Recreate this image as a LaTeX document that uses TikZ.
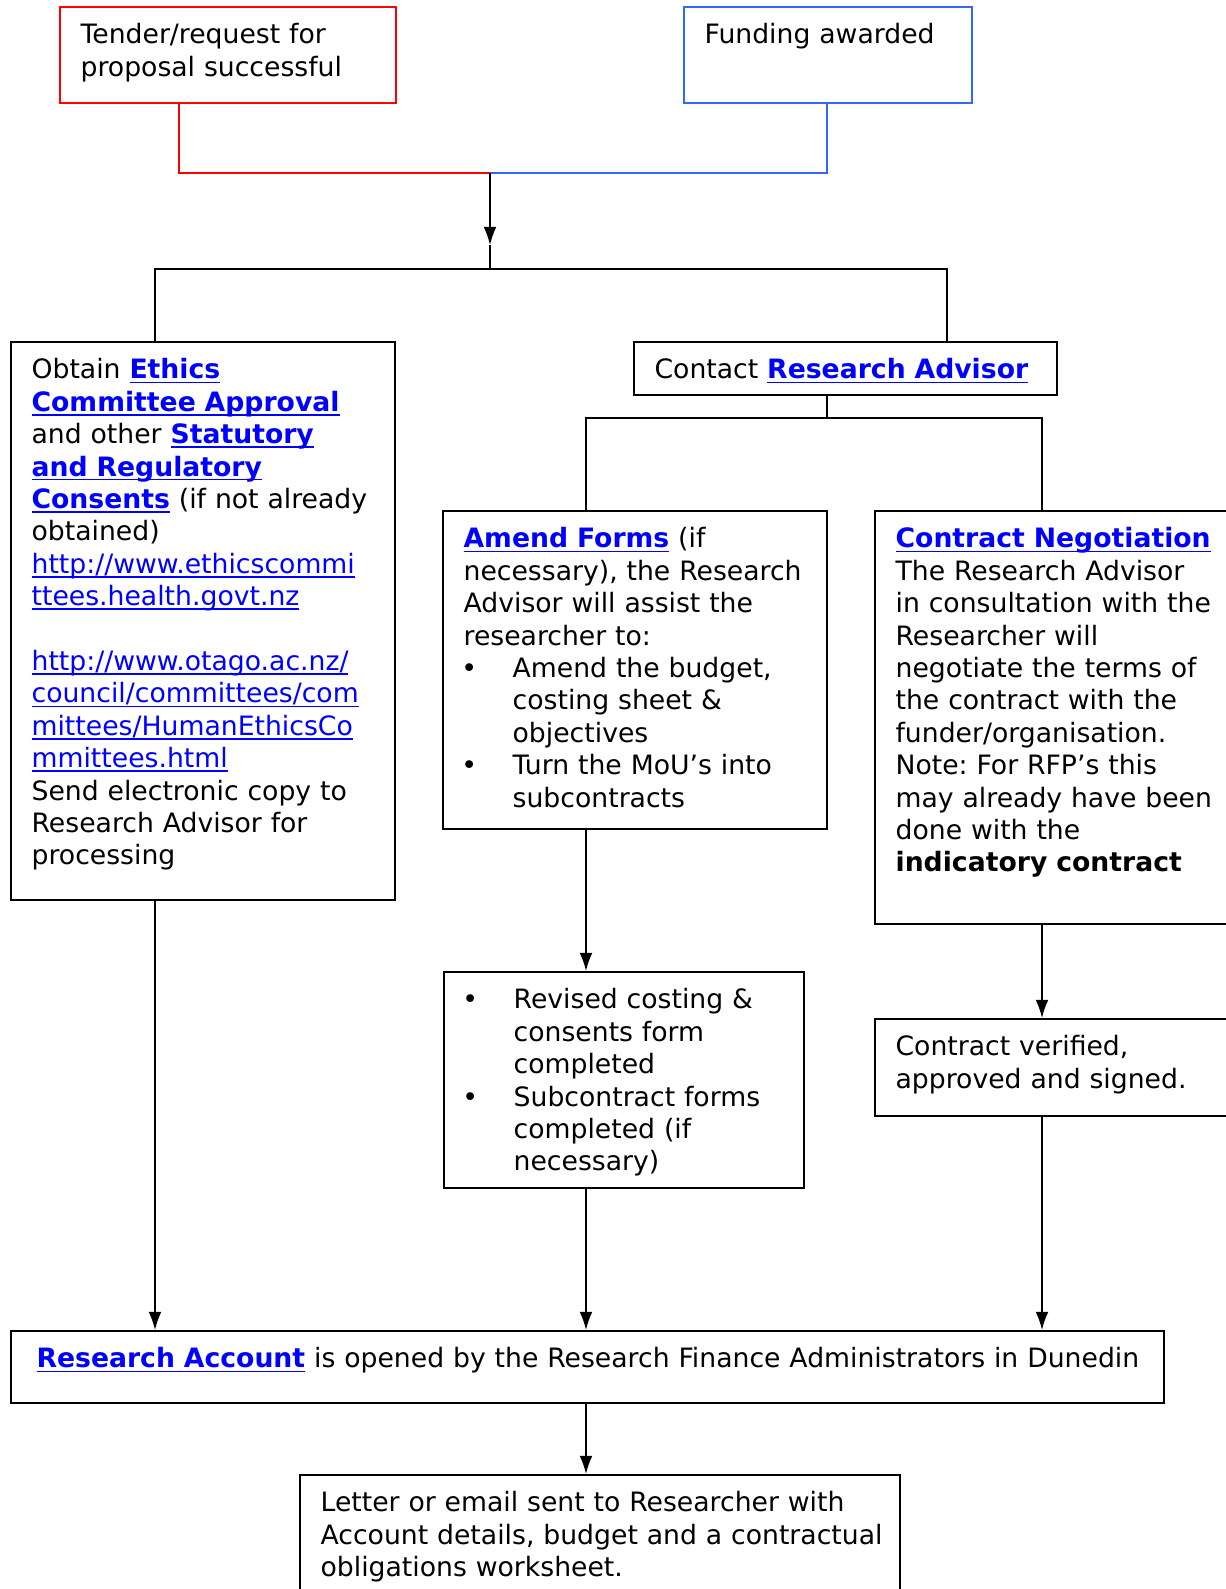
\documentclass[tikz,border=0pt]{standalone}
\usepackage{fontspec}
\setmainfont{DejaVu Sans}
\usepackage{xcolor}
\usepackage{tikz}
\usetikzlibrary{positioning,arrows.meta}

\definecolor{linkblue}{RGB}{0,0,255}
\definecolor{tenderred}{RGB}{255,0,0}
\definecolor{fundblue}{RGB}{51,102,255}
\newsavebox{\undlbox}
\newcommand{\undl}[1]{\sbox{\undlbox}{#1}\rlap{\rule[-1.6pt]{\wd\undlbox}{0.6pt}}\usebox{\undlbox}}
\newcommand{\lnk}[1]{\textcolor{linkblue}{\bfseries\undl{#1}}}
\newcommand{\weblink}[1]{\textcolor{linkblue}{\undl{#1}}}
\newcommand{\bitem}{\makebox[18.4pt][l]{\hspace{-0.8pt}\textbullet}}
\newcommand{\bind}{\hspace*{18.4pt}}
\frenchspacing

\begin{document}
\begin{tikzpicture}[
        x = 0.375pt, y = -0.375pt,
        box/.style = {draw=black, line width=0.75pt, anchor=north west, inner sep=0pt},
        txt/.style = {inner sep=0pt, align=left, text width=160pt,
                      font=\fontsize{10pt}{12.15pt}\selectfont},
    ]
    \tikzstyle{conn} = [line width=0.6pt];
    \tikzstyle{arr} = [conn, -{Latex[length=6.8pt, width=4.8pt]}];
    \clip (0,0) rectangle (1226,1589);

    % boxes
    \node [box, draw=tenderred, minimum width=126pt, minimum height=36pt] (tender) at (59,6) {};
    \node [box, draw=fundblue, minimum width=108pt, minimum height=36pt] (funding) at (683,6) {};
    \node [box, minimum width=144pt, minimum height=209.25pt] (ethics) at (10,341) {};
    \node [box, minimum width=158.6pt, minimum height=19.9pt] (contact) at (633,341) {};
    \node [box, minimum width=144pt, minimum height=119.25pt] (amend) at (442,510) {};
    \node [box, minimum width=142.5pt, minimum height=154.9pt] (contract) at (874,510) {};
    \node [box, minimum width=135pt, minimum height=81pt] (revised) at (443,971) {};
    \node [box, minimum width=142.5pt, minimum height=36.4pt] (verified) at (874,1018) {};
    \node [box, minimum width=432.4pt, minimum height=27pt] (account) at (10,1330) {};
    \node [box, minimum width=225pt, minimum height=52.5pt] (letter) at (299,1474) {};

    % texts
    \node [txt, below right=6.4pt and 7.9pt of tender.north west] (tendertxt)
        {Tender/request for\\ proposal successful};
    \node [txt, below right=6.4pt and 7.9pt of funding.north west] (fundingtxt)
        {Funding awarded};
    \node [txt, below right=6.4pt and 7.9pt of ethics.north west] (ethicstxt)
        {Obtain \lnk{Ethics}\\
         \lnk{Committee Approval}\\
         and other \lnk{Statutory}\\
         \lnk{and Regulatory}\\
         \lnk{Consents} (if not already\\
         obtained)\\
         \weblink{http://www.ethicscommi}\\
         \weblink{ttees.health.govt.nz}\\
         \mbox{}\\
         \weblink{http://www.otago.ac.nz/}\\
         \weblink{council/committees/com}\\
         \weblink{mittees/HumanEthicsCo}\\
         \weblink{mmittees.html}\\
         Send electronic copy to\\
         Research Advisor for\\
         processing};
    \node [txt, below right=6.4pt and 7.9pt of contact.north west] (contacttxt)
        {Contact \lnk{Research Advisor}};
    \node [txt, below right=6.4pt and 7.9pt of amend.north west] (amendtxt)
        {\lnk{Amend Forms} (if\\
         necessary), the Research\\
         Advisor will assist the\\
         researcher to:\\
         \bitem Amend the budget,\\
         \bind costing sheet \&\\
         \bind objectives\\
         \bitem Turn the MoU’s into\\
         \bind subcontracts};
    \node [txt, below right=6.4pt and 7.9pt of contract.north west] (contracttxt)
        {\lnk{Contract Negotiation}\\
         The Research Advisor\\
         in consultation with the\\
         Researcher will\\
         negotiate the terms of\\
         the contract with the\\
         funder/organisation.\\
         Note: For RFP’s this\\
         may already have been\\
         done with the\\
         \textbf{indicatory contract}};
    \node [txt, below right=6.4pt and 7.9pt of revised.north west] (revisedtxt)
        {\bitem Revised costing \&\\
         \bind consents form\\
         \bind completed\\
         \bitem Subcontract forms\\
         \bind completed (if\\
         \bind necessary)};
    \node [txt, below right=6.4pt and 7.9pt of verified.north west] (verifiedtxt)
        {Contract verified,\\ approved and signed.};
    \node [txt, text width=425pt, below right=6.4pt and 9.75pt of account.north west] (accounttxt)
        {\lnk{Research Account} is opened by the Research Finance Administrators in Dunedin};
    \node [txt, text width=220pt, below right=6.4pt and 7.9pt of letter.north west] (lettertxt)
        {Letter or email sent to Researcher with\\
         Account details, budget and a contractual\\
         obligations worksheet.};

    % connectors
    \coordinate (rl) at (179,173);
    \coordinate (bl) at (827,173);
    \coordinate (join) at (490,173);
    \coordinate (tip) at (490,245);
    \coordinate (split) at (490,269);
    \coordinate (sl) at (155,269);
    \coordinate (sr) at (947,269);
    \coordinate (cb) at (827,418);
    \coordinate (cl) at (586,418);
    \coordinate (cr) at (1042,418);

    \draw [conn, tenderred] (tender.south -| rl) -- (rl) -- (join);
    \draw [conn, fundblue] (funding.south -| bl) -- (bl) -- (join);
    \draw [arr] (join) -- (tip);
    \draw [conn] (tip) -- (split);
    \draw [conn] (ethics.north -| sl) -- (sl) -- (sr) -- (contact.north -| sr);
    \draw [conn] (contact.south -| cb) -- (cb);
    \draw [conn] (amend.north -| cl) -- (cl) -- (cr) -- (contract.north -| cr);
    \draw [arr] (amend.south -| cl) -- (revised.north -| cl);
    \draw [arr] (contract.south -| cr) -- (verified.north -| cr);
    \draw [arr] (ethics.south -| sl) -- (account.north -| sl);
    \draw [arr] (revised.south -| cl) -- (account.north -| cl);
    \draw [arr] (verified.south -| cr) -- (account.north -| cr);
    \draw [arr] (account.south -| cl) -- (letter.north -| cl);
\end{tikzpicture}
\end{document}
